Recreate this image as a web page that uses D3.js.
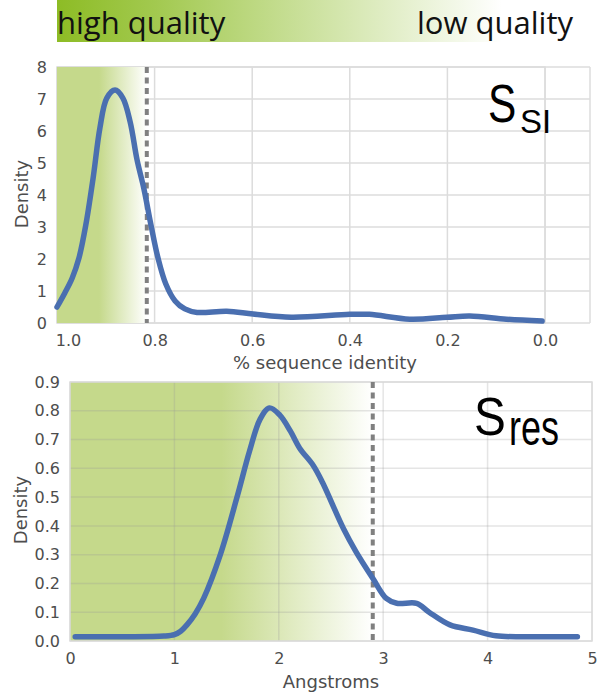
<!DOCTYPE html>
<html lang="en">
<head>
    <meta charset="UTF-8">
    <title>Sequence identity and resolution density</title>
    <script src="https://d3js.org/d3.v7.min.js"></script>
    <style>
        body { margin: 0; background: #fff; }
        .tick text { font-family: "DejaVu Sans", sans-serif; font-size: 16px; fill: #4d4d4d; }
    </style>
</head>
<body>
    <svg id="chart"></svg>

    <script>
        // Density of % sequence identity (x runs from 1.0 down to 0.0)
        const siX = [1.0, 0.984, 0.969, 0.955, 0.941, 0.926, 0.912, 0.898, 0.881, 0.865, 0.850, 0.836,
                     0.822, 0.807, 0.793, 0.777, 0.758, 0.738, 0.713, 0.652, 0.598, 0.52, 0.40, 0.36,
                     0.277, 0.201, 0.154, 0.079, 0.006];
        const siY = [0.5, 0.94, 1.4, 2.03, 3.06, 4.53, 6.1, 7.03, 7.28, 7.03, 6.28, 5.1,
                     4.2, 3.03, 2.03, 1.22, 0.69, 0.44, 0.33, 0.37, 0.28, 0.18, 0.27, 0.27,
                     0.12, 0.18, 0.22, 0.12, 0.06];
        const siTicksX = [1.0, 0.8, 0.6, 0.4, 0.2, 0.0];
        const siTicksY = [0, 1, 2, 3, 4, 5, 6, 7, 8];
        const siCutoff = 0.816;

        // Density of resolution in Angstroms
        const resX = [0.05, 0.5, 0.9, 1.0, 1.06, 1.12, 1.2, 1.28, 1.44, 1.60, 1.72, 1.82, 1.91, 2.01, 2.11,
                      2.20, 2.33, 2.42, 2.62, 2.74, 2.90, 3.03, 3.13, 3.32, 3.44, 3.64, 3.86, 4.08, 4.4, 4.86];
        const resY = [0.015, 0.015, 0.017, 0.022, 0.034, 0.056, 0.095, 0.148, 0.30, 0.50, 0.66, 0.77, 0.81,
                      0.785, 0.73, 0.67, 0.61, 0.55, 0.39, 0.31, 0.218, 0.148, 0.131, 0.131, 0.10, 0.056,
                      0.038, 0.018, 0.015, 0.015];
        const resTicksX = [0, 1, 2, 3, 4, 5];
        const resTicksY = [0.0, 0.1, 0.2, 0.3, 0.4, 0.5, 0.6, 0.7, 0.8, 0.9];
        const resCutoff = 2.9;

        const width = 597, height = 694;
        const green = "#c5d98b";
        const blue = "#4a6fb0";
        const grid = "#dcdcdc";

        const svg = d3.select("#chart")
            .attr("width", width)
            .attr("height", height);

        const defs = svg.append("defs");

        // quality bar at the top
        const barGrad = defs.append("linearGradient").attr("id", "barGrad");
        barGrad.append("stop").attr("offset", "0%").attr("stop-color", "#8dbc25");
        barGrad.append("stop").attr("offset", "22%").attr("stop-color", "#a2c94f");
        barGrad.append("stop").attr("offset", "100%").attr("stop-color", "#ffffff");

        svg.append("rect")
            .attr("x", 57).attr("y", 0)
            .attr("width", 445).attr("height", 42)
            .attr("fill", "url(#barGrad)");

        svg.append("text")
            .attr("x", 57).attr("y", 33.5)
            .style("font-family", "'Open Sans', sans-serif")
            .style("font-size", "31px")
            .attr("fill", "#111")
            .text("high quality");

        svg.append("text")
            .attr("x", 573).attr("y", 33.5)
            .attr("text-anchor", "end")
            .style("font-family", "'Open Sans', sans-serif")
            .style("font-size", "31px")
            .attr("fill", "#111")
            .text("low quality");

        // one density panel
        function panel(opts) {
            const x = d3.scaleLinear().domain(opts.xDomain).range([opts.left, opts.right]);
            const y = d3.scaleLinear().domain(opts.yDomain).range([opts.bottom, opts.top]);
            const g = svg.append("g");

            // shaded high-quality zone
            const gradId = opts.id + "Grad";
            const grad = defs.append("linearGradient").attr("id", gradId);
            grad.append("stop").attr("offset", "0%").attr("stop-color", green);
            grad.append("stop").attr("offset", opts.solidUntil).attr("stop-color", green);
            grad.append("stop").attr("offset", "100%").attr("stop-color", "#ffffff");

            const shade = () => g.append("rect")
                .attr("x", opts.left)
                .attr("y", opts.top)
                .attr("width", x(opts.cutoff) - opts.left)
                .attr("height", opts.bottom - opts.top)
                .attr("fill", `url(#${gradId})`);

            if (opts.shadeOver) shade();

            // grid
            const gridLayer = g.append("g");
            const gc = opts.shadeOver ? "rgba(150,150,150,0.25)" : grid;
            gridLayer.selectAll(".hg").data(opts.yTicks).join("line")
                .attr("x1", opts.left).attr("x2", opts.right)
                .attr("y1", d => y(d)).attr("y2", d => y(d))
                .attr("stroke", gc)
                .attr("stroke-width", 1.5);
            gridLayer.selectAll(".vg").data(opts.xTicks).join("line")
                .attr("x1", d => x(d)).attr("x2", d => x(d))
                .attr("y1", opts.top).attr("y2", opts.bottom)
                .attr("stroke", gc)
                .attr("stroke-width", 1.5);
            gridLayer.append("rect")
                .attr("x", opts.left).attr("y", opts.top)
                .attr("width", opts.right - opts.left)
                .attr("height", opts.bottom - opts.top)
                .attr("fill", "none")
                .attr("stroke", grid)
                .attr("stroke-width", 1.5);

            if (!opts.shadeOver) shade();

            // cutoff
            g.append("line")
                .attr("x1", x(opts.cutoff)).attr("x2", x(opts.cutoff))
                .attr("y1", opts.top).attr("y2", opts.bottom)
                .attr("stroke", "#808080")
                .attr("stroke-width", 4)
                .attr("stroke-dasharray", "6,4.5");

            // axes
            const xAxis = g.append("g")
                .attr("transform", `translate(0,${opts.bottom})`)
                .call(d3.axisBottom(x).tickValues(opts.xTicks).tickFormat(opts.xFormat).tickSize(0).tickPadding(opts.xPad));
            xAxis.select(".domain").remove();
            if (opts.firstShift) {
                xAxis.selectAll(".tick text").filter((d, i) => i === 0).attr("dx", opts.firstShift);
            }

            const yAxis = g.append("g")
                .attr("transform", `translate(${opts.left},0)`)
                .call(d3.axisLeft(y).tickValues(opts.yTicks).tickFormat(opts.yFormat).tickSize(0).tickPadding(opts.yPad));
            yAxis.select(".domain").remove();

            g.append("text")
                .attr("x", (opts.left + opts.right) / 2 + opts.titleShift)
                .attr("y", opts.titleY)
                .attr("text-anchor", "middle")
                .style("font-family", "'DejaVu Sans', sans-serif")
                .style("font-size", "18px")
                .attr("fill", "#4d4d4d")
                .text(opts.xTitle);

            g.append("text")
                .attr("transform", `translate(${opts.yTitleX},${opts.yTitleY}) rotate(-90)`)
                .attr("text-anchor", "middle")
                .style("font-family", "'DejaVu Sans', sans-serif")
                .style("font-size", "18px")
                .attr("fill", "#4d4d4d")
                .text("Density");

            // density curve
            const pts = opts.xs.map((v, i) => [v, opts.ys[i]]);
            g.append("path")
                .datum(pts)
                .attr("d", d3.line().x(d => x(d[0])).y(d => y(d[1])).curve(d3.curveCatmullRom.alpha(0.5)))
                .attr("fill", "none")
                .attr("stroke", blue)
                .attr("stroke-width", 5.5)
                .attr("stroke-linecap", "round");

            return { g, x, y };
        }

        const siPanel = panel({
            id: "si",
            xDomain: [1.0, 0.0], yDomain: [0, 8],
            left: 57, right: 545, top: 67, bottom: 323,
            solidUntil: "47%",
            shadeOver: false,
            cutoff: siCutoff,
            xs: siX, ys: siY,
            xTicks: siTicksX, yTicks: siTicksY,
            xFormat: d3.format(".1f"), yFormat: d3.format("d"),
            xPad: 12, yPad: 10, firstShift: 11,
            xTitle: "% sequence identity", titleY: 369, titleShift: 24,
            yTitleX: 28, yTitleY: 194
        });
        // the frame of the top panel runs on past 0.0
        const ext = siPanel.g.insert("g", "path");
        ext.selectAll("line").data(siTicksY).join("line")
            .attr("x1", 545).attr("x2", 590)
            .attr("y1", d => siPanel.y(d)).attr("y2", d => siPanel.y(d))
            .attr("stroke", grid).attr("stroke-width", 1.5);
        ext.append("line")
            .attr("x1", 590).attr("x2", 590).attr("y1", 67).attr("y2", 323)
            .attr("stroke", grid).attr("stroke-width", 1.5);

        panel({
            id: "res",
            xDomain: [0, 5], yDomain: [0, 0.9],
            left: 70, right: 592, top: 382, bottom: 641,
            solidUntil: "50%",
            shadeOver: true,
            cutoff: resCutoff,
            xs: resX, ys: resY,
            xTicks: resTicksX, yTicks: resTicksY,
            xFormat: d3.format("d"), yFormat: d3.format(".1f"),
            xPad: 12, yPad: 10, firstShift: 0,
            xTitle: "Angstroms", titleY: 688, titleShift: 0,
            yTitleX: 27, yTitleY: 510
        });

        // panel labels
        function panelLabel(xPos, yBase, sub, subSize, subScale, subDx, subDy, sScale) {
            const g = svg.append("g").attr("transform", `translate(${xPos},${yBase})`);
            g.append("text")
                .attr("transform", `scale(${sScale},1)`)
                .style("font-family", "'Liberation Sans', Arial, sans-serif")
                .style("font-size", "53px")
                .attr("fill", "#000")
                .text("S");
            g.append("text")
                .attr("transform", `translate(${subDx},${subDy}) scale(${subScale},1)`)
                .style("font-family", "'Liberation Sans', Arial, sans-serif")
                .style("font-size", subSize + "px")
                .attr("fill", "#000")
                .text(sub);
        }
        panelLabel(488, 122, "SI", 33, 1, 32, 11, 0.8);
        panelLabel(474, 435, "res", 50, 0.72, 35, 10, 0.9);
    </script>
</body>
</html>
